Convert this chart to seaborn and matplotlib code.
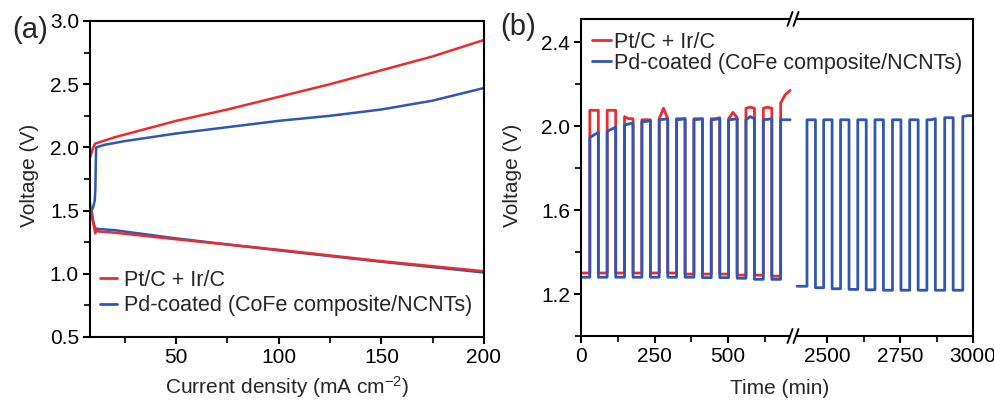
import numpy as np
import pandas as pd
import matplotlib
matplotlib.use("Agg")
import matplotlib.pyplot as plt
import seaborn as sns
from matplotlib.lines import Line2D
from matplotlib.patches import Polygon
from matplotlib.ticker import MultipleLocator, FixedLocator

# ---------------- data: panel (a) charge / discharge polarization ----------------
a_ptc_charge_j = [8, 8.8, 9.6, 10.5, 20, 50, 75, 100, 125, 150, 175, 200]
a_ptc_charge_v = [1.92, 1.96, 2.00, 2.03, 2.08, 2.21, 2.30, 2.40, 2.50, 2.61, 2.72, 2.85]
a_ptc_dis_j = [8, 9, 10, 10.5, 11, 12, 20, 50, 100, 150, 200]
a_ptc_dis_v = [1.56, 1.45, 1.37, 1.32, 1.35, 1.335, 1.325, 1.273, 1.19, 1.10, 1.02]
a_pd_charge_j = [8.8, 9.6, 10.3, 10.6, 10.8, 11.0, 15, 25, 50, 75, 100, 125, 150, 175, 200]
a_pd_charge_v = [1.50, 1.53, 1.58, 1.66, 1.85, 2.00, 2.02, 2.05, 2.11, 2.16, 2.21, 2.25, 2.30, 2.37, 2.47]
a_pd_dis_j = [8.8, 9.5, 10.5, 12, 20, 50, 100, 150, 200]
a_pd_dis_v = [1.50, 1.42, 1.36, 1.355, 1.345, 1.28, 1.185, 1.095, 1.01]

# ---------------- data: panel (b) galvanostatic cycling ----------------
# left segment (0 - ~720 min)
b_left_on = [30, 89, 148, 207, 266, 325, 384, 443, 502, 561, 620, 679]
b_left_off = [59, 118, 177, 236, 295, 354, 413, 472, 531, 590, 649, 711]
b_ptc_top_start = [2.075, 2.075, 2.045, 2.03, 2.035, 2.035, 2.035, 2.035, 2.035, 2.085, 2.085, 2.11]
b_ptc_top_mid = [2.075, 2.075, 2.035, 2.03, 2.085, 2.035, 2.035, 2.035, 2.065, 2.09, 2.09, 2.15]
b_ptc_top_end = [2.075, 2.075, 2.035, 2.03, 2.035, 2.035, 2.035, 2.04, 2.04, 2.085, 2.085, 2.17]
b_ptc_bottom = [1.30, 1.30, 1.30, 1.30, 1.30, 1.30, 1.295, 1.295, 1.295, 1.29, 1.29, 1.285]
b_pd_top_start = [1.945, 1.975, 2.005, 2.02, 2.03, 2.03, 2.03, 2.03, 2.03, 2.03, 2.03, 2.03]
b_pd_top_mid = [1.958, 1.985, 2.01, 2.022, 2.032, 2.032, 2.032, 2.032, 2.032, 2.045, 2.032, 2.03]
b_pd_top_end = [1.97, 1.995, 2.015, 2.025, 2.035, 2.035, 2.035, 2.035, 2.035, 2.035, 2.035, 2.03]
b_pd_bottom = [1.28, 1.28, 1.28, 1.28, 1.28, 1.28, 1.28, 1.278, 1.278, 1.275, 1.27, 1.27]
# right segment (~2390 - 3000 min), Pd-coated only
b_right_start = 2397
b_right_on = [2431, 2488, 2546, 2605, 2664, 2724, 2783, 2842, 2903, 2965]
b_right_off = [2460, 2517, 2575, 2634, 2693, 2753, 2812, 2871, 2932, 3000]
b_right_top_start = [2.03, 2.03, 2.03, 2.03, 2.03, 2.03, 2.03, 2.03, 2.04, 2.045]
b_right_top_mid = [2.03, 2.03, 2.03, 2.03, 2.03, 2.03, 2.03, 2.03, 2.04, 2.05]
b_right_top_end = [2.03, 2.03, 2.03, 2.03, 2.03, 2.03, 2.03, 2.035, 2.04, 2.05]
b_right_bottom = [1.237, 1.23, 1.225, 1.222, 1.22, 1.218, 1.218, 1.218, 1.218, 1.218]

labels = ["Pt/C + Ir/C", "Pd-coated (CoFe composite/NCNTs)"]
RED = "#EE2A2E"
BLUE = "#2F56B5"
palette = {labels[0]: RED, labels[1]: BLUE}


def wave(start, on, off, ts, tm, te, bottoms):
    t = [start]
    v = [bottoms[0]]
    for k in range(len(on)):
        t += [on[k], on[k], (on[k] + off[k]) / 2, off[k]]
        v += [bottoms[k], ts[k], tm[k], te[k]]
        if k + 1 < len(on):
            t.append(off[k])
            v.append(bottoms[k + 1])
    return t, v


# ---------------- build tables ----------------
rows = []
for cat, br, j, v in [
    (labels[1], "c", a_pd_charge_j, a_pd_charge_v),
    (labels[1], "d", a_pd_dis_j, a_pd_dis_v),
    (labels[0], "c", a_ptc_charge_j, a_ptc_charge_v),
    (labels[0], "d", a_ptc_dis_j, a_ptc_dis_v),
]:
    for jj, vv in zip(j, v):
        rows.append((cat, cat + br, jj, vv))
df_a = pd.DataFrame(rows, columns=["cat", "branch", "j", "v"])

t_r, v_r = wave(0, b_left_on, b_left_off, b_ptc_top_start, b_ptc_top_mid, b_ptc_top_end, b_ptc_bottom)
t_b, v_b = wave(0, b_left_on, b_left_off, b_pd_top_start, b_pd_top_mid, b_pd_top_end, b_pd_bottom)
df_bl = pd.DataFrame({
    "cat": [labels[0]] * len(t_r) + [labels[1]] * len(t_b),
    "t": t_r + t_b,
    "v": v_r + v_b,
})
t_rr, v_rr = wave(b_right_start, b_right_on, b_right_off, b_right_top_start,
                  b_right_top_mid, b_right_top_end, b_right_bottom)
df_br = pd.DataFrame({"cat": [labels[1]] * len(t_rr), "t": t_rr, "v": v_rr})

# ---------------- style ----------------
sns.set_style("ticks")
plt.rcParams["font.family"] = ["Liberation Sans", "DejaVu Sans"]
plt.rcParams["mathtext.fontset"] = "custom"
plt.rcParams["mathtext.rm"] = "Liberation Sans"
plt.rcParams["mathtext.it"] = "Liberation Sans:italic"
plt.rcParams["axes.linewidth"] = 1.5
plt.rcParams["axes.edgecolor"] = "black"

W, H = 995, 401
fig = plt.figure(figsize=(W / 100, H / 100), dpi=100)


def fx(px):
    return px / W


def fy(py):
    return 1 - py / H


TICK_FS = 15
LAB_FS = 15
LEG_FS = 15.5

axA = fig.add_axes([fx(90), fy(337), (484 - 90) / W, (337 - 21) / H])
axL = fig.add_axes([fx(581), fy(336), (793 - 581) / W, (336 - 19) / H])
axR = fig.add_axes([fx(793), fy(336), (973 - 793) / W, (336 - 19) / H])

# panel (a)
sns.lineplot(data=df_a, x="j", y="v", hue="cat", units="branch", estimator=None,
             sort=False, palette=palette, hue_order=[labels[1], labels[0]],
             linewidth=1.8, legend=False, ax=axA)
axA.set_xlim(8, 200)
axA.set_ylim(0.5, 3.0)
axA.xaxis.set_major_locator(FixedLocator([50, 100, 150, 200]))
axA.xaxis.set_minor_locator(FixedLocator([25, 75, 125, 175]))
axA.yaxis.set_major_locator(MultipleLocator(0.5))
axA.yaxis.set_minor_locator(MultipleLocator(0.25))
axA.yaxis.set_major_formatter(matplotlib.ticker.FormatStrFormatter("%.1f"))
axA.set_xlabel("")
axA.set_ylabel("")

# panel (b)
sns.lineplot(data=df_bl, x="t", y="v", hue="cat", estimator=None, sort=False,
             palette=palette, hue_order=[labels[0], labels[1]], linewidth=2.0,
             legend=False, ax=axL)
sns.lineplot(data=df_br, x="t", y="v", hue="cat", estimator=None, sort=False,
             palette=palette, linewidth=2.0, legend=False, ax=axR)
for ax in (axL, axR):
    ax.set_ylim(1.0, 2.51)
    ax.set_xlabel("")
    ax.set_ylabel("")
axL.set_xlim(0, 721)
axR.set_xlim(2383, 3000)
axL.xaxis.set_major_locator(FixedLocator([0, 250, 500]))
axL.xaxis.set_minor_locator(FixedLocator([125, 375, 625]))
axR.xaxis.set_major_locator(FixedLocator([2500, 2750, 3000]))
axR.xaxis.set_minor_locator(FixedLocator([2625, 2875]))
axL.yaxis.set_major_locator(FixedLocator([1.2, 1.6, 2.0, 2.4]))
axL.yaxis.set_minor_locator(FixedLocator([1.0, 1.4, 1.8, 2.2]))
axL.yaxis.set_major_formatter(matplotlib.ticker.FormatStrFormatter("%.1f"))
axL.spines["right"].set_visible(False)
axR.spines["left"].set_visible(False)
axR.tick_params(axis="y", which="both", left=False, labelleft=False)

for ax in (axA, axL, axR):
    ax.tick_params(axis="both", which="major", direction="out", length=5, width=1.5,
                   labelsize=TICK_FS, pad=3, colors="black")
    ax.tick_params(axis="both", which="minor", direction="out", length=4, width=1.5)
    for s in ax.spines.values():
        s.set_linewidth(1.5)
        s.set_color("black")

# break marks
for yb in (19, 336):
    poly = Polygon([(fx(789), fy(yb + 4)), (fx(795), fy(yb + 4)),
                    (fx(797), fy(yb - 4)), (fx(791), fy(yb - 4))],
                   closed=True, transform=fig.transFigure, facecolor="white",
                   edgecolor="none", zorder=10)
    fig.add_artist(poly)
    for x0 in (787.5, 793.5):
        fig.add_artist(Line2D([fx(x0), fx(x0 + 5)], [fy(yb + 7), fy(yb - 7)],
                              transform=fig.transFigure, color="black", lw=1.4, zorder=11))

# labels
fig.text(fx(287), fy(387), r"Current density (mA cm$^{-2}$)", ha="center", va="center",
         fontsize=LAB_FS)
fig.text(fx(780), fy(389), "Time (min)", ha="center", va="center", fontsize=LAB_FS)
fig.text(fx(30), fy(175), "Voltage (V)", ha="center", va="center", rotation=90,
         fontsize=LAB_FS)
fig.text(fx(512), fy(175), "Voltage (V)", ha="center", va="center", rotation=90,
         fontsize=LAB_FS)
fig.text(fx(30), fy(30), "(a)", ha="center", va="center", fontsize=21)
fig.text(fx(518), fy(27), "(b)", ha="center", va="center", fontsize=21)

handles = [Line2D([], [], color=RED, lw=2.0), Line2D([], [], color=BLUE, lw=2.0)]
axA.legend(handles, labels, loc="lower left", bbox_to_anchor=(0.025, 0.065),
           frameon=False, fontsize=LEG_FS, handlelength=0.8, handletextpad=0.3,
           labelspacing=0.22, borderpad=0, borderaxespad=0)
fig.legend(handles, labels, loc="upper left", bbox_to_anchor=(fx(592), fy(32)),
           frameon=False, fontsize=LEG_FS, handlelength=0.9, handletextpad=0.1,
           labelspacing=0.0, borderpad=0, borderaxespad=0)

fig.savefig("out.png", dpi=100)
